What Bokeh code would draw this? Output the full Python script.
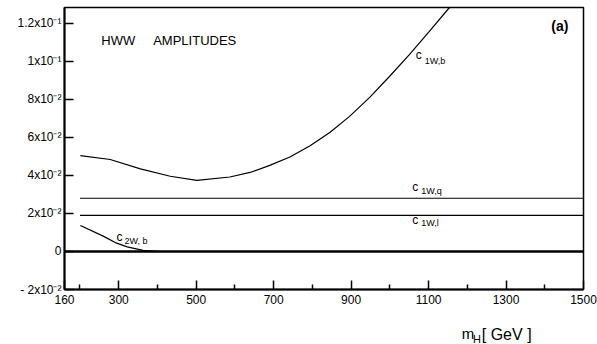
from bokeh.plotting import figure
from bokeh.models import Range1d, FixedTicker, Label
from bokeh.layouts import column
from bokeh.embed import file_html
from bokeh.resources import INLINE

# ---- data ----
mh_1wb = [201, 278, 356, 433, 502, 587, 639, 690, 742, 793, 845, 896, 948, 999, 1051, 1102, 1154, 1174]
c_1wb = [0.0505, 0.0484, 0.0435, 0.0396, 0.0374, 0.0392, 0.0416, 0.0453, 0.0497, 0.0555,
         0.0626, 0.0711, 0.0811, 0.0921, 0.1037, 0.1158, 0.1284, 0.1332]

mh_2wb = [201, 260, 291, 322, 363, 407]
c_2wb = [0.0137, 0.0081, 0.0047, 0.0024, 0.0006, 0.0]

mh_flat = [200, 1500]
c_1wq = [0.028, 0.028]
c_1wl = [0.019, 0.019]

mh_zero = [160, 1500]
zero = [0.0, 0.0]

x_ticks = [160, 300, 500, 700, 900, 1100, 1300, 1500]
x_minor = [200, 400, 600, 800, 1000, 1200, 1400]
y_ticks = [-0.02, 0, 0.02, 0.04, 0.06, 0.08, 0.1, 0.12]
y_labels = ["- 2x10⁻²", "0", "2x10⁻²", "4x10⁻²", "6x10⁻²", "8x10⁻²", "1x10⁻¹", "1.2x10⁻¹"]

FONT = "Liberation Sans"

p = figure(width=597, height=310, output_backend="svg", toolbar_location=None,
           x_range=Range1d(160, 1500), y_range=Range1d(-0.02, 0.1284),
           min_border_left=64, min_border_right=14, min_border_top=7, min_border_bottom=21)
p.background_fill_color = "white"
p.border_fill_color = "white"
p.outline_line_color = "black"
p.outline_line_width = 1.5
p.grid.visible = False

# axes
p.xaxis.ticker = FixedTicker(ticks=x_ticks, minor_ticks=x_minor)
p.yaxis.ticker = FixedTicker(ticks=y_ticks, minor_ticks=[])
p.yaxis.major_label_overrides = {t: l for t, l in zip(y_ticks, y_labels)}
for ax in (p.xaxis, p.yaxis):
    ax.axis_line_color = "black"
    ax.axis_line_width = 2
    ax.major_tick_in = 9
    ax.major_tick_out = 0
    ax.major_tick_line_width = 1.5
    ax.major_tick_line_color = "black"
    ax.minor_tick_in = 5
    ax.minor_tick_out = 0
    ax.minor_tick_line_width = 1.5
    ax.minor_tick_line_color = "black"
    ax.major_label_text_font = FONT
    ax.major_label_text_font_size = "12px"
    ax.major_label_text_color = "black"
p.xaxis.major_label_standoff = 5
p.yaxis.major_label_standoff = 3

# curves
p.line(mh_zero, zero, line_color="black", line_width=2.5)
p.line(mh_1wb, c_1wb, line_color="black", line_width=1.2)
p.line(mh_flat, c_1wq, line_color="black", line_width=1.1)
p.line(mh_flat, c_1wl, line_color="black", line_width=1.1)
p.line(mh_2wb, c_2wb, line_color="black", line_width=1.2)

def lab(fig, x, y, text, size, bold=False):
    fig.add_layout(Label(x=x, y=y, text=text, text_font=FONT, text_font_size=size,
                         text_color="black", text_baseline="alphabetic", text_align="left",
                         text_font_style="bold" if bold else "normal"))

# curve labels (c + subscript)
lab(p, 1067, 0.1032, "c", "12px")
lab(p, 1090, 0.1000, "1W,b", "9px")
lab(p, 1058, 0.0342, "c", "12px")
lab(p, 1081, 0.0320, "1W,q", "9px")
lab(p, 1058, 0.0168, "c", "12px")
lab(p, 1081, 0.0150, "1W,l", "9px")
lab(p, 294, 0.0076, "c", "12px")
lab(p, 315, 0.0056, "2W, b", "9px")

# title texts
lab(p, 255, 0.111, "HWW", "13px")
lab(p, 389, 0.111, "AMPLITUDES", "13px")
lab(p, 1417, 0.1185, "(a)", "14px", bold=True)

# strip below for the x-axis title m_H [ GeV ]
q = figure(width=597, height=34, output_backend="svg", toolbar_location=None,
           x_range=Range1d(0, 597), y_range=Range1d(0, 34),
           x_axis_type=None, y_axis_type=None,
           min_border_left=0, min_border_right=0, min_border_top=0, min_border_bottom=0)
q.outline_line_color = None
q.grid.visible = False
q.background_fill_color = "white"
q.border_fill_color = "white"
lab(q, 457, 11, "m", "15px")
lab(q, 470, 6, "H", "11px")
lab(q, 480, 10, "[ GeV ]", "16px")

open("out.html", "w").write(file_html(column(p, q, spacing=0), INLINE))
